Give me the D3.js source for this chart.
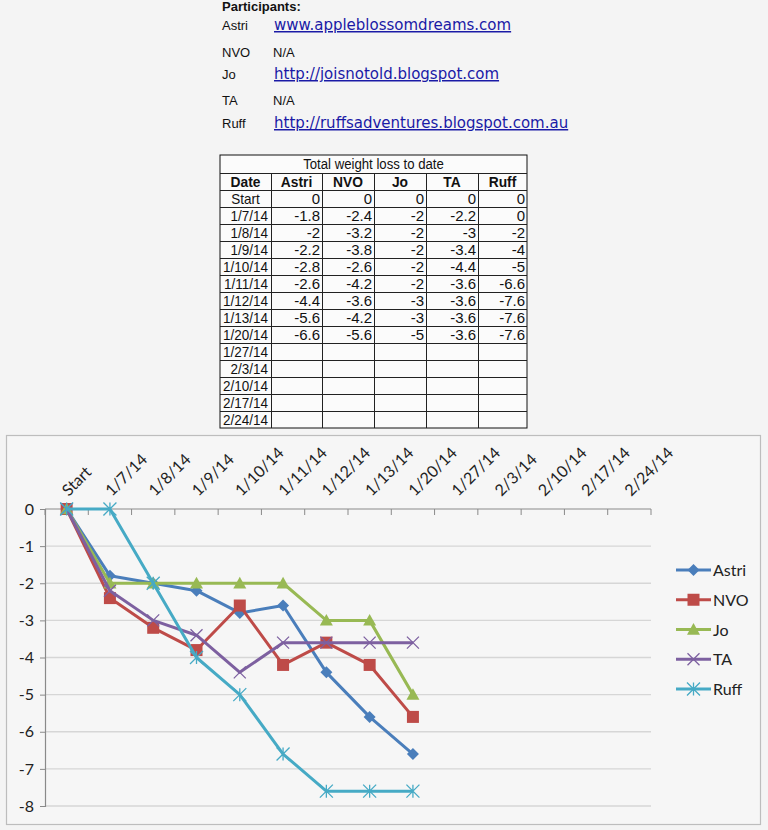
<!DOCTYPE html>
<html>
<head>
<meta charset="utf-8">
<script src="https://cdn.jsdelivr.net/npm/d3@7"></script>
<style>
  html, body { margin: 0; padding: 0; background: #f4f4f4; }
  svg { display: block; }
  .body-text { font-family: "Liberation Sans", Arial, sans-serif; font-size: 13px; fill: #111; }
  .link { font-family: "DejaVu Sans", Verdana, sans-serif; font-size: 15px; fill: #1a1aa6; text-decoration: underline; }
  .cell { font-family: "Liberation Sans", Arial, sans-serif; font-size: 15px; fill: #111; }
  .axis-text { font-family: Lato, "Open Sans", sans-serif; font-size: 16px; fill: #222; }
  .legend-text { font-family: Lato, "Open Sans", sans-serif; font-size: 16px; fill: #222; }
</style>
</head>
<body>
<div id="root"></div>
<script>
const dates = ["Start", "1/7/14", "1/8/14", "1/9/14", "1/10/14", "1/11/14", "1/12/14", "1/13/14",
  "1/20/14", "1/27/14", "2/3/14", "2/10/14", "2/17/14", "2/24/14"];
const names = ["Astri", "NVO", "Jo", "TA", "Ruff"];
const astri = [0, -1.8, -2, -2.2, -2.8, -2.6, -4.4, -5.6, -6.6];
const nvo = [0, -2.4, -3.2, -3.8, -2.6, -4.2, -3.6, -4.2, -5.6];
const jo = [0, -2, -2, -2, -2, -2, -3, -3, -5];
const ta = [0, -2.2, -3, -3.4, -4.4, -3.6, -3.6, -3.6, -3.6];
const ruff = [0, 0, -2, -4, -5, -6.6, -7.6, -7.6, -7.6];
const sites = ["www.appleblossomdreams.com", "N/A", "http://joisnotold.blogspot.com", "N/A",
  "http://ruffsadventures.blogspot.com.au"];
const yTicks = [0, -1, -2, -3, -4, -5, -6, -7, -8];
const tableTitle = "Total weight loss to date";

const series = [
  { name: "Astri", values: astri, color: "#4a7ebb", marker: "diamond" },
  { name: "NVO", values: nvo, color: "#be4b48", marker: "square" },
  { name: "Jo", values: jo, color: "#98b954", marker: "triangle" },
  { name: "TA", values: ta, color: "#7d60a0", marker: "cross" },
  { name: "Ruff", values: ruff, color: "#46aac5", marker: "star" },
];

const W = 768, H = 830;
const svg = d3.select("#root").append("svg").attr("width", W).attr("height", H);

// ---- participants block ----
const header = svg.append("g");
header.append("text").attr("class", "body-text").attr("x", 222).attr("y", 11)
  .style("font-weight", "bold").text("Participants:");
const rowBase = [30, 57, 79, 105, 128];
names.forEach((n, i) => {
  header.append("text").attr("class", "body-text").attr("x", 222).attr("y", rowBase[i]).text(n);
  const isLink = sites[i] !== "N/A";
  header.append("text").attr("class", isLink ? "link" : "body-text")
    .attr("x", isLink ? 274 : 273).attr("y", rowBase[i]).text(sites[i]);
});

// ---- table ----
const colEdges = [220, 271, 322, 374, 426, 478, 527];
const tTop = 155, titleH = 18, headH = 17, rowH = 17;
const tbl = svg.append("g");
const rowsY = d3.range(dates.length + 2).map(i => i === 0 ? tTop : tTop + titleH + (i - 1) * rowH);
const tBottom = tTop + titleH + (dates.length + 1) * rowH;
tbl.append("rect").attr("x", colEdges[0]).attr("y", tTop)
  .attr("width", colEdges[6] - colEdges[0]).attr("height", tBottom - tTop)
  .attr("fill", "#fbfbfb").attr("stroke", "#111").attr("stroke-width", 1);
rowsY.slice(1).forEach(yy => {
  tbl.append("line").attr("x1", colEdges[0]).attr("x2", colEdges[6])
    .attr("y1", yy + 0.5).attr("y2", yy + 0.5).attr("stroke", "#222");
});
colEdges.slice(1, 6).forEach(xx => {
  tbl.append("line").attr("x1", xx + 0.5).attr("x2", xx + 0.5)
    .attr("y1", tTop + titleH).attr("y2", tBottom).attr("stroke", "#222");
});

// cell text; letters look narrow in the source, digits do not
function cellText(px, py, anchor, txt, opts) {
  const o = opts || {};
  return tbl.append("text").attr("class", "cell")
    .attr("transform", `translate(${px},${py}) scale(${o.sx || 1},1)`)
    .attr("text-anchor", anchor).style("font-weight", o.bold ? "bold" : null).text(txt);
}

cellText((colEdges[0] + colEdges[6]) / 2, tTop + 14, "middle", tableTitle, { sx: 0.88 });
["Date"].concat(names).forEach((h, c) => {
  cellText((colEdges[c] + colEdges[c + 1]) / 2, tTop + titleH + 14, "middle", h, { bold: true, sx: 0.92 });
});
dates.forEach((d, r) => {
  const yy = tTop + titleH + headH + r * rowH + 14;
  const first = r === 0;
  cellText(first ? (colEdges[0] + colEdges[1]) / 2 : colEdges[1] - 3, yy, first ? "middle" : "end", d,
    { sx: 0.9 });
  series.forEach((s, c) => {
    if (r < s.values.length) cellText(colEdges[c + 2] - 2, yy, "end", s.values[r]);
  });
});

// ---- chart ----
const chart = svg.append("g");
chart.append("rect").attr("x", 6.5).attr("y", 435.5).attr("width", 754).attr("height", 389)
  .attr("fill", "#f6f6f6").attr("stroke", "#bdbdbd").attr("stroke-width", 1.2);

const x = d3.scaleBand().domain(dates).range([45, 651]);
const y = d3.scaleLinear().domain([-8, 0]).range([806, 509]);
const cx = d => x(d) + x.bandwidth() / 2;

// gridlines
chart.append("g").selectAll("line").data(yTicks.filter(t => t !== 0)).join("line")
  .attr("x1", 45).attr("x2", 651).attr("y1", d => y(d)).attr("y2", d => y(d))
  .attr("stroke", "#d6d6d6").attr("stroke-width", 1.4);

// y axis
const yAxis = chart.append("g").attr("transform", "translate(45,0)")
  .call(d3.axisLeft(y).tickValues(yTicks).tickSize(5).tickPadding(6));
yAxis.select(".domain").attr("stroke", "#8a8a8a").attr("stroke-width", 1.2);
yAxis.selectAll(".tick line").attr("stroke", "#8a8a8a");
yAxis.selectAll("text").attr("class", "axis-text").attr("fill", null)
  .style("font-size", "16px").text(d => String(d));

// x axis at zero with ticks between categories
const xAxisG = chart.append("g");
xAxisG.append("line").attr("x1", 45).attr("x2", 651).attr("y1", y(0)).attr("y2", y(0))
  .attr("stroke", "#8a8a8a").attr("stroke-width", 1.2);
const tickXs = dates.map(d => x(d)).concat([x.range()[1]]);
xAxisG.selectAll("line.tk").data(tickXs).join("line").attr("class", "tk")
  .attr("x1", d => d).attr("x2", d => d)
  .attr("y1", y(0)).attr("y2", y(0) + 6).attr("stroke", "#8a8a8a");
xAxisG.selectAll("text").data(dates).join("text").attr("class", "axis-text")
  .attr("transform", d => `translate(${cx(d) + 2},${y(0) - 12}) rotate(-45)`)
  .text(d => d);

// lines and markers
const line = d3.line().x((d, i) => cx(dates[i])).y(d => y(d));

function drawMarker(g, type, color, px, py) {
  if (type === "diamond") {
    const r = 6;
    g.append("path").attr("d", `M${px},${py - r}L${px + r},${py}L${px},${py + r}L${px - r},${py}Z`)
      .attr("fill", color);
  } else if (type === "square") {
    const r = 6;
    g.append("rect").attr("x", px - r).attr("y", py - r).attr("width", 2 * r).attr("height", 2 * r)
      .attr("fill", color);
  } else if (type === "triangle") {
    const r = 6.5;
    g.append("path").attr("d", `M${px},${py - r}L${px + r},${py + r * 0.8}L${px - r},${py + r * 0.8}Z`)
      .attr("fill", color);
  } else if (type === "cross") {
    const r = 6;
    g.append("path").attr("d", `M${px - r},${py - r}L${px + r},${py + r}M${px - r},${py + r}L${px + r},${py - r}`)
      .attr("stroke", color).attr("stroke-width", 1.3).attr("fill", "none");
  } else if (type === "star") {
    const r = 6.5;
    g.append("path").attr("d", `M${px - r},${py - r}L${px + r},${py + r}M${px - r},${py + r}L${px + r},${py - r}M${px},${py - r}L${px},${py + r}`)
      .attr("stroke", color).attr("stroke-width", 1.3).attr("fill", "none");
  }
}

series.forEach(s => {
  const g = chart.append("g");
  g.append("path").datum(s.values).attr("d", line).attr("fill", "none")
    .attr("stroke", s.color).attr("stroke-width", 3).attr("stroke-linejoin", "round");
  s.values.forEach((v, i) => drawMarker(g, s.marker, s.color, cx(dates[i]), y(v)));
});

// legend
const legendY = d3.scalePoint().domain(names).range([570, 689]);
series.forEach(s => {
  const g = chart.append("g");
  const ly = legendY(s.name);
  g.append("line").attr("x1", 676).attr("x2", 711).attr("y1", ly).attr("y2", ly)
    .attr("stroke", s.color).attr("stroke-width", 3);
  drawMarker(g, s.marker, s.color, 693.5, ly);
  g.append("text").attr("class", "legend-text").attr("x", 713).attr("y", ly + 6).text(s.name);
});
</script>
</body>
</html>
